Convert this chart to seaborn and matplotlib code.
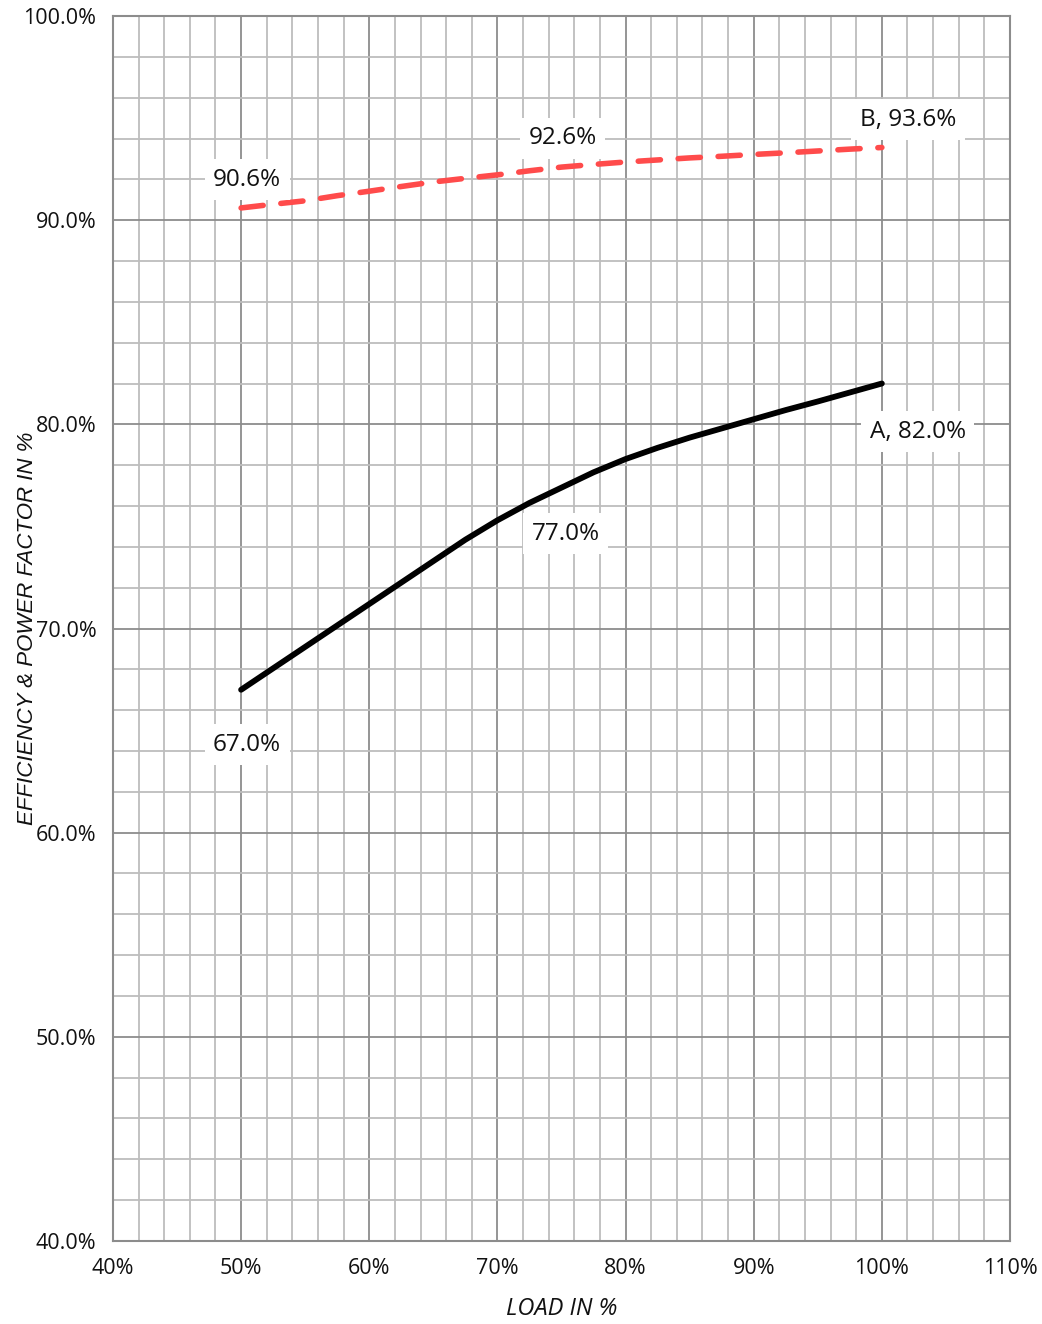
import numpy as np
import pandas as pd
import matplotlib
matplotlib.use("Agg")
import matplotlib.pyplot as plt
import seaborn as sns
from matplotlib.ticker import MultipleLocator, FuncFormatter

# values
load = [50, 52.5, 55, 57.5, 60, 62.5, 65, 67.5, 70, 72.5, 75,
        77.5, 80, 82.5, 85, 87.5, 90, 92.5, 95, 97.5, 100]
series_a = [67.0, 68.05, 69.1, 70.15, 71.2, 72.25, 73.3, 74.35, 75.3, 76.15, 76.9,
            77.65, 78.3, 78.85, 79.35, 79.8, 80.25, 80.7, 81.12, 81.56, 82.0]
series_b = [90.6, 90.78, 90.95, 91.2, 91.42, 91.65, 91.87, 92.05, 92.22, 92.42, 92.6,
            92.73, 92.85, 92.95, 93.05, 93.13, 93.22, 93.3, 93.39, 93.48, 93.56]

# labelled points
label_load = [50, 75, 100]
label_a = [67.0, 77.0, 82.0]
label_b = [90.6, 92.6, 93.6]

df = pd.DataFrame({"load": load, "A": series_a, "B": series_b})

sns.set_theme(style="white")
plt.rcParams["font.family"] = ["Open Sans", "DejaVu Sans"]

fig = plt.figure(figsize=(10.42, 13.24), dpi=100)
ax = fig.add_axes([0.1084, 0.0627, 0.8609, 0.9252])

sns.lineplot(data=df, x="load", y="B", ax=ax, color="#ff4b4b", linewidth=4.0,
             zorder=3)
ax.lines[-1].set_linestyle((0, (4.0, 3.2)))
ax.lines[-1].set_dash_capstyle("round")
sns.lineplot(data=df, x="load", y="A", ax=ax, color="black", linewidth=4.2,
             solid_capstyle="round", zorder=3)

ax.set_xlim(40, 110)
ax.set_ylim(40, 100)
ax.xaxis.set_major_locator(MultipleLocator(10))
ax.xaxis.set_minor_locator(MultipleLocator(2))
ax.yaxis.set_major_locator(MultipleLocator(10))
ax.yaxis.set_minor_locator(MultipleLocator(2))
ax.xaxis.set_major_formatter(FuncFormatter(lambda v, p: f"{v:.0f}%"))
ax.yaxis.set_major_formatter(FuncFormatter(lambda v, p: f"{v:.1f}%"))

ax.grid(which="major", color="#8c8c8c", linewidth=1.3, zorder=1)
ax.grid(which="minor", color="#bdbdbd", linewidth=1.3, zorder=1)
ax.set_axisbelow(True)
for s in ax.spines.values():
    s.set_color("#8c8c8c")
    s.set_linewidth(1.5)

ax.tick_params(which="major", direction="out", length=7, width=1.3,
               color="#8c8c8c", labelsize=15.5, labelcolor="#111111")
ax.tick_params(which="minor", length=0)
ax.tick_params(axis="x", pad=5)
ax.tick_params(axis="y", pad=5)

ax.set_xlabel("LOAD IN %", fontsize=17, style="italic", color="#111111")
ax.set_ylabel("EFFICIENCY & POWER FACTOR IN %", fontsize=16, style="italic",
              family="Liberation Sans", color="#111111")
ax.xaxis.set_label_coords(0.5, -0.046)
ax.yaxis.set_label_coords(-0.084, 0.5)

box = dict(boxstyle="square,pad=0.35", fc="white", ec="none")
offs_b = [(6, 28), (1, 29), (26, 27)]
offs_a = [(6, -55), (4, -48), (36, -48)]
for i, (x, yb, ya) in enumerate(zip(label_load, label_b, label_a)):
    tb = f"{yb:.1f}%" if i < 2 else f"B, {yb:.1f}%"
    ta = f"{ya:.1f}%" if i < 2 else f"A, {ya:.1f}%"
    ax.annotate(tb, (x, yb), xytext=offs_b[i], textcoords="offset pixels",
                ha="center", va="center", fontsize=17.5, color="#111111",
                bbox=box, zorder=4)
    ax.annotate(ta, (x, ya), xytext=offs_a[i], textcoords="offset pixels",
                ha="center", va="center", fontsize=17.5, color="#111111",
                bbox=box, zorder=4)

fig.savefig("out.png", dpi=100)
